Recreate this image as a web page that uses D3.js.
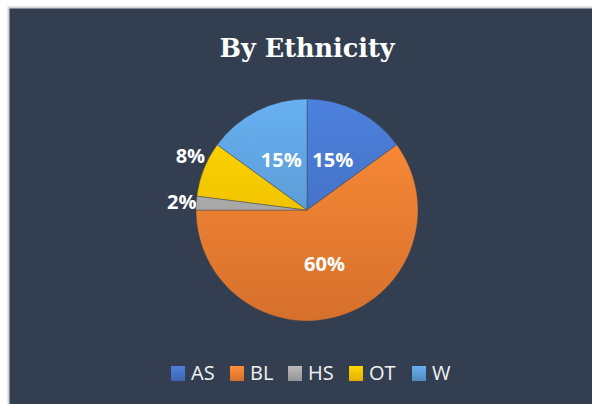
<!DOCTYPE html>
<html>
<head>
<meta charset="utf-8">
<script src="https://cdn.jsdelivr.net/npm/d3@7"></script>
<style>
  body { margin: 0; background: #fff; }
  svg { display: block; }
</style>
</head>
<body>
<div id="chart"></div>
<script>
// data
var categories = ["AS", "BL", "HS", "OT", "W"];
var values = [15, 60, 2, 8, 15];
var labels = ["15%", "60%", "2%", "8%", "15%"];
var colors = ["#4472C4", "#ED7D31", "#A5A5A5", "#FFC000", "#5B9BD5"];

var width = 592, height = 404;

var svg = d3.select("#chart").append("svg")
    .attr("width", width)
    .attr("height", height);

// chart frame
svg.append("rect")
    .attr("x", 8.5).attr("y", 7.5)
    .attr("width", width).attr("height", height)
    .attr("fill", "#333F50")
    .attr("stroke", "#d4d4d4")
    .attr("stroke-width", 2);

svg.append("text")
    .attr("x", 307).attr("y", 57)
    .attr("text-anchor", "middle")
    .attr("fill", "#fff")
    .style("font-family", "'DejaVu Serif', serif")
    .style("font-weight", "bold")
    .style("font-size", "25.5px")
    .text("By Ethnicity");

// gradients, lighter at top
var defs = svg.append("defs");
function addGrad(id, c, user) {
    var g = defs.append("linearGradient").attr("id", id);
    if (user) {
        g.attr("gradientUnits", "userSpaceOnUse")
            .attr("x1", 0).attr("y1", -111).attr("x2", 0).attr("y2", 111);
    } else {
        g.attr("x1", 0).attr("y1", 0).attr("x2", 0).attr("y2", 1);
    }
    g.append("stop").attr("offset", "0%").attr("stop-color", d3.color(c).brighter(0.35));
    g.append("stop").attr("offset", "100%").attr("stop-color", d3.color(c).darker(0.3));
}
colors.forEach(function(c, i) {
    addGrad("grad" + i, c, true);
    addGrad("lg" + i, c, false);
});

var r = 111;
var pieG = svg.append("g").attr("transform", "translate(307,210)");

var pie = d3.pie().sort(null).value(function(d) { return d; });
var arcs = pie(values);
var arc = d3.arc().innerRadius(0).outerRadius(r);

pieG.selectAll("path.slice")
    .data(arcs)
    .enter().append("path")
    .attr("class", "slice")
    .attr("d", arc)
    .attr("fill", function(d, i) { return "url(#grad" + i + ")"; })
    .attr("stroke", "#333F50")
    .attr("stroke-width", 0.4);

// label positions: inside for large slices, outside for small ones
var inArc = d3.arc().innerRadius(r * 0.51).outerRadius(r * 0.51);
var outArc = d3.arc().innerRadius(r * 1.13).outerRadius(r * 1.13);

pieG.selectAll("text.lbl")
    .data(arcs)
    .enter().append("text")
    .attr("class", "lbl")
    .attr("transform", function(d, i) {
        var p = values[i] < 10 ? outArc.centroid(d) : inArc.centroid(d);
        if (i === 3) p = [p[0], p[1] - 8];
        return "translate(" + p + ")";
    })
    .attr("text-anchor", "middle")
    .attr("dy", "0.35em")
    .attr("fill", "#fff")
    .style("font-family", "'Open Sans', sans-serif")
    .style("font-weight", "bold")
    .style("font-size", "20px")
    .text(function(d, i) { return labels[i]; });

// legend
var legendX = [171, 230, 288, 349, 412];
var leg = svg.append("g").attr("transform", "translate(0,366)");
var item = leg.selectAll("g")
    .data(categories)
    .enter().append("g")
    .attr("transform", function(d, i) { return "translate(" + legendX[i] + ",0)"; });

item.append("rect")
    .attr("width", 14).attr("height", 15)
    .attr("fill", function(d, i) { return "url(#lg" + i + ")"; });

item.append("text")
    .attr("x", 20).attr("y", 14)
    .attr("fill", "#f2f2f2")
    .style("font-family", "'Open Sans', sans-serif")
    .style("font-size", "20px")
    .text(function(d) { return d; });
</script>
</body>
</html>
